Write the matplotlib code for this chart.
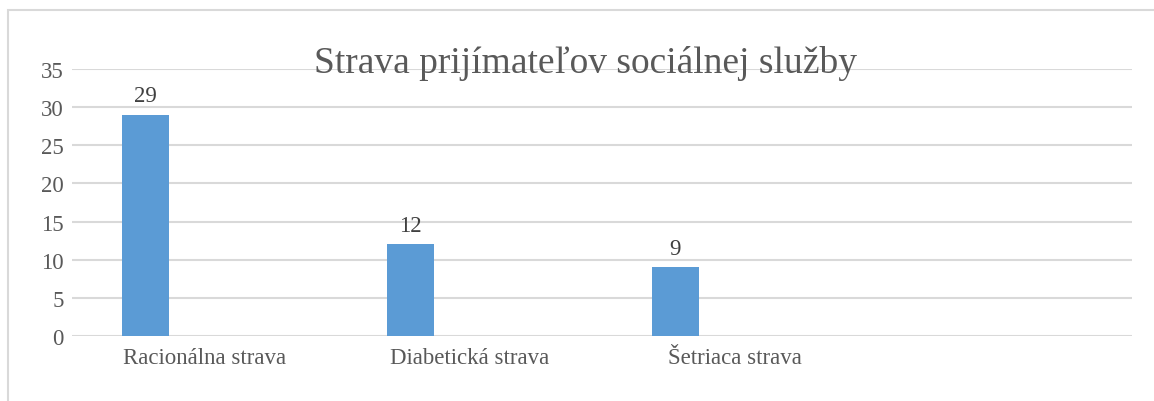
import matplotlib
matplotlib.use("Agg")
from matplotlib import pyplot as plt
from matplotlib.patches import Rectangle

# data
categories = ['Racionálna strava', 'Diabetická strava', 'Šetriaca strava', '']
values = [29, 12, 9, None]
y_ticks = [0, 5, 10, 15, 20, 25, 30, 35]
title = 'Strava prijímateľov sociálnej služby'

text_color = '#595959'
grid_color = '#d9d9d9'
bar_color = '#5b9bd5'

plt.rcParams['font.family'] = ['Liberation Serif', 'DejaVu Serif']

W, H = 1154, 402
fig = plt.figure(figsize=(W / 100, H / 100), dpi=100)
ax = fig.add_axes([72 / W, 1 - 337 / H, (1132 - 72) / W, (337 - 70) / H])

# chart border (only left and top visible in the crop)
fig.patches.append(Rectangle((8 / W, -0.2), 1.2, 1 - 11 / H + 0.2,
                             transform=fig.transFigure, fill=False,
                             edgecolor=grid_color, linewidth=1.5))

positions = list(range(len(categories)))
offset = -0.224
for x, v in zip(positions, values):
    if v is None:
        continue
    ax.bar(x + offset, v, width=0.178, color=bar_color, zorder=3)
    ax.annotate(str(v), (x + offset, v), xytext=(0, 6), textcoords='offset points',
                ha='center', va='bottom', fontsize=16.5, color='#404040')

ax.set_xlim(-0.5, len(categories) - 0.5)
ax.set_ylim(0, 35)
ax.set_yticks(y_ticks)
ax.set_xticks(positions)
ax.set_xticklabels(categories)
ax.tick_params(axis='both', length=0, labelsize=16.5, labelcolor=text_color)
ax.tick_params(axis='x', pad=8)
ax.tick_params(axis='y', pad=6)
ax.grid(axis='y', color=grid_color, linewidth=1.5, zorder=0)
for s in ax.spines.values():
    s.set_visible(False)

fig.text(585 / W, 1 - 64 / H, title, ha='center', va='center',
         fontsize=27, color=text_color)

fig.savefig('out.png', dpi=100)
